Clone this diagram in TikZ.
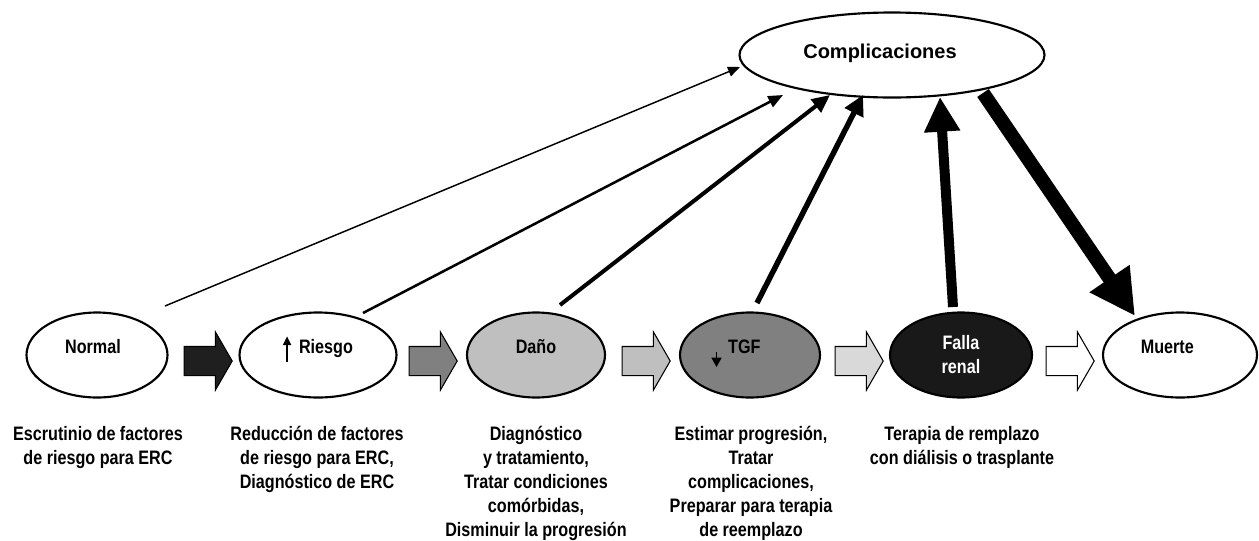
\documentclass[tikz,border=0pt]{standalone}
\usepackage{fontspec}
\setmainfont{Liberation Sans}[FakeStretch=0.83]
\newfontfamily\compfont{Liberation Sans}
\usetikzlibrary{arrows.meta}
\usetikzlibrary{shapes.geometric}
\usetikzlibrary{shapes.arrows}

\newcommand{\upmark}{\tikz[baseline=0pt]\draw[line width=1.2pt,-{Triangle[length=6.5pt,width=6pt]}] (0pt,-6.75pt) -- (0pt,12.5pt);}
\newcommand{\downmark}{\tikz[baseline=0pt]\draw[line width=1.2pt,-{Triangle[length=7pt,width=7.5pt]}] (0pt,0.75pt) -- (0pt,-10.5pt);}

\begin{document}
\begin{tikzpicture}[x=.75pt,y=-.75pt,
  stage/.style={ellipse, draw, line width=1.6pt, minimum width=#1, minimum height=63.75pt, inner sep=0pt,
    font=\bfseries\fontsize{14.6}{18}\selectfont, text height=10.5pt, text depth=13.5pt},
  flow/.style={single arrow, draw, line width=0.8pt, minimum height=36pt, inner xsep=0pt, inner ysep=10.5pt,
    single arrow head extend=10.9pt, single arrow tip angle=120},
  note/.style={font=\bfseries\fontsize{14.6}{18}\selectfont, align=center, anchor=base, inner sep=0pt}]
\useasboundingbox (0,0) rectangle (1259,540);

\node[ellipse, draw, line width=1.6pt, minimum width=228.75pt, minimum height=63.75pt, inner sep=0pt,
  font=\compfont\bfseries\fontsize{15}{18}\selectfont, text height=11pt, text depth=6pt] (comp) at (892,55) {Complicaciones\hspace*{18pt}};

% stages of the disease
\node[stage=105.75pt] (normal) at (97,355) {Normal\hspace*{6pt}};
\node[stage=117.75pt] (riesgo) at (318,355) {\upmark\hspace{6pt}Riesgo};
\node[stage=103.5pt, fill=gray!50] (dano) at (536,355) {Daño};
\node[stage=105pt, fill=gray] (tgf) at (750,355) {\downmark\hspace{5pt}TGF\hspace*{21pt}};
\node[stage=106.5pt, fill=black!90, text=white, align=center, text height=, text depth=] (falla) at (961,355) {Falla\\renal};
\node[stage=115.5pt] (muerte) at (1180,355) {Muerte\hspace*{19pt}};

% block arrows between stages
\node[flow, fill=black!88] (a1) at (204,361) {};
\node[flow, fill=gray] (a2) at (429,361) {};
\node[flow, fill=gray!50] (a3) at (642,361) {};
\node[flow, fill=gray!30] (a4) at (855,361) {};
\node[flow, fill=white] (a5) at (1066,361) {};

% arrows to complicaciones, thicker each step
\draw[line width=1.1pt, -{Triangle[length=9pt,width=7.5pt]}] ([shift={(68,-49)}]normal.center) -- ([shift={(-152,12)}]comp.center);
\draw[line width=1.9pt, -{Triangle[length=11pt,width=9pt]}] ([shift={(45,-42)}]riesgo.center) -- ([shift={(-109,40)}]comp.center);
\draw[line width=3pt, -{Triangle[length=13.5pt,width=12pt]}] ([shift={(24,-50)}]dano.center) -- ([shift={(-62,40)}]comp.center);
\draw[line width=4.1pt, -{Triangle[length=15pt,width=15pt]}] ([shift={(7,-52)}]tgf.center) -- ([shift={(-29,40)}]comp.center);
\draw[line width=7.5pt, -{Triangle[length=26pt,width=25.5pt]}] ([shift={(-8,-48)}]falla.center) -- ([shift={(48,42)}]comp.center);
\draw[line width=10.5pt, -{Triangle[length=34pt,width=34pt]}] ([shift={(91,38)}]comp.center) -- ([shift={(-45,-39)}]muerte.center);

% what to do at each stage (base = last line)
\node[note] (normalnote) at (98,464) {Escrutinio de factores\\de riesgo para ERC};
\node[note] (riesgonote) at (317,488) {Reducción de factores\\de riesgo para ERC,\\Diagnóstico de ERC};
\node[note] (danonote) at (536,536) {Diagnóstico\\y tratamiento,\\Tratar condiciones\\comórbidas,\\Disminuir la progresión};
\node[note] (tgfnote) at (751,536) {Estimar progresión,\\Tratar\\complicaciones,\\Preparar para terapia\\de reemplazo};
\node[note] (fallanote) at (962,464) {Terapia de remplazo\\con diálisis o trasplante};

\end{tikzpicture}
\end{document}
